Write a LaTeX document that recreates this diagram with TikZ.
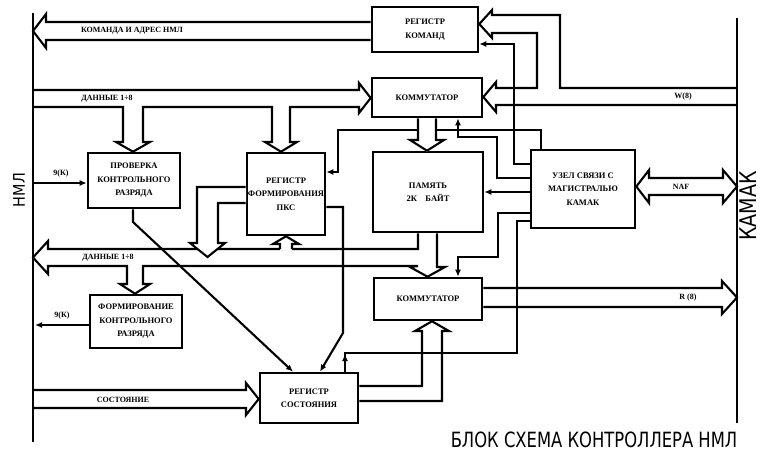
\documentclass[tikz,border=0pt]{standalone}
\usepackage{fontspec}
\setmainfont{Liberation Serif}
\newfontfamily\letfont{DejaVu Sans}
\usetikzlibrary{arrows.meta}
\begin{document}
\begin{tikzpicture}[x=1pt,y=-1pt,
  blk/.style={draw,line width=2.6pt,inner sep=0pt,align=center,font=\bfseries\fontsize{8.5}{13.5}\selectfont},
  wire/.style={line width=2.1pt},
  arr/.style={wire,-{Latex[length=7pt,width=6pt]}},
  bus/.style={line width=2.1pt,line join=miter},
  lbl/.style={font=\bfseries\fontsize{8}{9}\selectfont,inner sep=0pt},
  side/.style={font=\letfont,inner sep=0pt}
]
\useasboundingbox (0,0) rectangle (761,453);
\fill[white] (0,0) rectangle (761,453);

% blocks
\node[blk,minimum width=106pt,minimum height=45pt] (rk) at (425,29.5) {РЕГИСТР\\КОМАНД};
\node[blk,minimum width=110pt,minimum height=39pt] (kom1) at (427,97.5) {КОММУТАТОР};
\node[blk,minimum width=110pt,minimum height=80pt] (pam) at (428,192) {ПАМЯТЬ\\2К\quad БАЙТ};
\node[blk,minimum width=104pt,minimum height=78pt] (uzel) at (583,189) {УЗЕЛ СВЯЗИ С\\МАГИСТРАЛЬЮ\\КАМАК};
\node[blk,minimum width=108pt,minimum height=42pt] (kom2) at (428,299) {КОММУТАТОР};
\node[blk,minimum width=98pt,minimum height=50pt] (rs) at (309,398) {РЕГИСТР\\СОСТОЯНИЯ};
\node[blk,minimum width=92pt,minimum height=55pt] (prov) at (134,180.5) {ПРОВЕРКА\\КОНТРОЛЬНОГО\\РАЗРЯДА};
\node[blk,minimum width=78pt,minimum height=82pt] (pks) at (286,194) {РЕГИСТР\\ФОРМИРОВАНИЯ\\ПКС};
\node[blk,minimum width=92pt,minimum height=53pt] (form) at (136,321.5) {ФОРМИРОВАНИЕ\\КОНТРОЛЬНОГО\\РАЗРЯДА};

% interface lines
\coordinate (nmlT) at (33,13); \coordinate (nmlB) at (33,442);
\coordinate (kamT) at (737,18); \coordinate (kamB) at (737,423);
\draw[line width=2.6pt] (nmlT) -- (nmlB);
\draw[line width=2.6pt] (kamT) -- (kamB);

% single wires
\draw[arr] (33,183) -- (prov.west |- 0,183);
\draw[arr] (form.west |- 0,325) -- (35,325);
\draw[arr] (prov.south -| 133,0) -- (133,222) -- (rs.north -| 293,0);
\draw[arr] (pks.east |- 0,207) -- (343,207) -- (343,333) -- (rs.north -| 320,0);
\draw[arr] (uzel.north -| 541,0) -- (541,130) -- (338,130) -- (338,172) -- (pks.east |- 0,172);
\draw[arr] (uzel.west |- 0,178) -- (497,178) -- (497,137) -- (458,137) -- (kom1.south -| 458,0);
\draw[arr] (uzel.west |- 0,164) -- (514,164) -- (514,44) -- (rk.east |- 0,44);
\draw[arr] (uzel.west |- 0,192) -- (pam.east |- 0,192);
\draw[arr] (uzel.west |- 0,213) -- (498,213) -- (498,257) -- (458,257) -- (kom2.north -| 458,0);
\draw[wire] (uzel.west |- 0,221) -- (517,221) -- (517,353) -- (345,353) -- (rs.north -| 345,0);
\draw[arr] (rs.north -| 345,0) -- (345,354);

% command bus
\draw[bus] (rk.west |- 0,22) -- (46,22) -- (46,14) -- (33,31) -- (46,48) -- (46,40) -- (rk.west |- 0,40);

% upper data bus
\draw[bus] (33,90) -- (359,90) -- (359,83) -- (kom1.west |- 0,98) -- (359,113) -- (359,107)
  -- (290,107) -- (290,142) -- (297,142) -- (pks.north -| 281,0) -- (265,142) -- (272,142) -- (272,107)
  -- (143,107) -- (143,142) -- (150,142) -- (prov.north -| 133,0) -- (116,142) -- (123,142) -- (123,107) -- (33,107);

% W(8) bus
\draw[bus] (737,88) -- (560,88) -- (560,15) -- (492,15) -- (492,10) -- (rk.east |- 0,24) -- (492,38) -- (492,33)
  -- (537,33) -- (537,88) -- (496,88) -- (496,82) -- (kom1.east |- 0,97) -- (496,112) -- (496,105) -- (737,105);

% NAF
\draw[bus] (649,178) -- (723,178) -- (723,170) -- (737,186.5) -- (723,203) -- (723,195) -- (649,195)
  -- (649,203) -- (uzel.east |- 0,186.5) -- (649,170) -- cycle;

% kom1 -> pam
\fill[white] (418,119.5) -- (418,140) -- (410,140) -- (427,152) -- (444,140) -- (436,140) -- (436,119.5) -- cycle;
\draw[bus] (kom1.south -| 418,0) -- (418,140) -- (410,140) -- (pam.north -| 427,0) -- (444,140) -- (436,140) -- (kom1.south -| 436,0);

% pam -> kom2 with lower data bus
\draw[bus] (pam.south -| 418,0) -- (418,249) -- (48,249) -- (48,241) -- (33,257.5) -- (48,274) -- (48,266)
  -- (127,266) -- (127,284) -- (120,284) -- (form.north -| 135,0) -- (150,284) -- (143,284) -- (143,266)
  -- (418,266) -- (410,267) -- (kom2.north -| 427.5,0) -- (445,267) -- (437,267) -- (pam.south -| 437,0);

% up arrow into pks
\fill[white] (280,250.5) -- (280,244) -- (273,244) -- (286,236) -- (299,244) -- (292,244) -- (292,250.5) -- cycle;
\draw[bus] (280,249) -- (280,244) -- (273,244) -- (pks.south) -- (299,244) -- (292,244) -- (292,249);

% pks left -> bus
\fill[white] (246,187) -- (197,187) -- (197,243) -- (190,243) -- (207.5,257) -- (225,243) -- (218,243) -- (218,203) -- (246,203) -- cycle;
\draw[bus] (pks.west |- 0,187) -- (197,187) -- (197,243) -- (190,243) -- (207.5,257) -- (225,243) -- (218,243) -- (218,203) -- (pks.west |- 0,203);

% rs -> kom2
\draw[bus] (rs.east |- 0,386) -- (422,386) -- (422,331) -- (415,331) -- (kom2.south -| 432,0) -- (449,331) -- (442,331) -- (442,401) -- (rs.east |- 0,401);

% R(8)
\draw[bus] (kom2.east |- 0,288) -- (722,288) -- (722,281) -- (737,297.5) -- (722,314) -- (722,307) -- (kom2.east |- 0,307);

% status bus
\draw[bus] (33,390) -- (246,390) -- (246,383) -- (rs.west |- 0,399) -- (246,415) -- (246,408) -- (33,408);

% labels
\node[lbl] at (132,31) {КОМАНДА И АДРЕС НМЛ};
\node[lbl] at (107,99) {ДАННЫЕ 1÷8};
\node[lbl] at (108,258) {ДАННЫЕ 1÷8};
\node[lbl] at (683,97) {W(8)};
\node[lbl] at (681,187) {NAF};
\node[lbl] at (688,298) {R (8)};
\node[lbl] at (61,174) {9(К)};
\node[lbl] at (62,316) {9(К)};
\node[lbl] at (123,400) {СОСТОЯНИЕ};

\node[side,font=\letfont\fontsize{16}{16}\selectfont,rotate=90] at (19,190) {\scalebox{0.9}[1]{НМЛ}};
\node[side,font=\letfont\fontsize{23}{23}\selectfont,rotate=90] at (748,206) {\scalebox{0.83}[1]{КАМАК}};
\node[side,font=\letfont\fontsize{21}{21}\selectfont] at (594,440) {\scalebox{0.78}[1]{БЛОК СХЕМА КОНТРОЛЛЕРА НМЛ}};
\end{tikzpicture}
\end{document}
